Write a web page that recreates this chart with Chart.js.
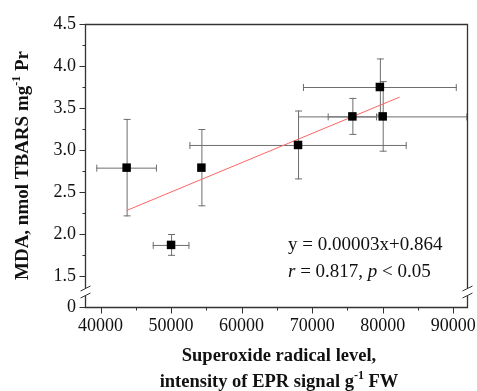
<!DOCTYPE html>
<html>
<head>
<meta charset="utf-8">
<script src="https://cdn.jsdelivr.net/npm/chart.js@4"></script>
<style>
  html, body { margin: 0; padding: 0; background: #fff; }
  #wrap { width: 477px; height: 391px; }
</style>
</head>
<body>
<div id="wrap"><canvas id="myChart1" width="477" height="391"></canvas></div>
<script>
// superoxide level (x) vs MDA (y), mean +- sd
const xVals = [43700, 50000, 54300, 68000, 75700, 80000, 79600];
const yVals = [2.79, 1.87, 2.79, 3.06, 3.40, 3.40, 3.75];
const xErr = [4300, 2600, 0, 15400, 3500, 12000, 10900];
const yErr = [0.58, 0.13, 0.46, 0.41, 0.22, 0.42, 0.34];

// fitted line end points as drawn
const fitX = [43700, 82400];
const fitY = [2.28, 3.63];

const xTicks = [40000, 50000, 60000, 70000, 80000, 90000];
const yTicks = [1.5, 2.0, 2.5, 3.0, 3.5, 4.0, 4.5];
const xRange = [37800, 91950];
const yRange = [1.131, 4.5]; // bottom of the broken axis is labelled 0
const eqLines = ['y = 0.00003x+0.864', 'r = 0.817, p < 0.05'];

const serif = '"Liberation Serif", "Times New Roman", serif';
const axisCol = '#333';

// error bars go under the square markers
const errorBars = {
    id: 'errorBars',
    beforeDatasetsDraw(chart) {
        const ctx = chart.ctx;
        const xs = chart.scales.x, ys = chart.scales.y;
        const a = chart.chartArea;
        ctx.save();
        ctx.beginPath();
        ctx.rect(a.left, a.top, a.right - a.left + 1, a.bottom - a.top);
        ctx.clip();
        ctx.strokeStyle = '#6e6e6e';
        ctx.lineWidth = 1;
        const cap = 3;
        xVals.forEach((x, i) => {
            const px = xs.getPixelForValue(x);
            const py = ys.getPixelForValue(yVals[i]);
            if (xErr[i] > 0) {
                const l = xs.getPixelForValue(x - xErr[i]);
                const r = xs.getPixelForValue(x + xErr[i]);
                ctx.beginPath();
                ctx.moveTo(l, py + 0.5); ctx.lineTo(r, py + 0.5);
                ctx.moveTo(l + 0.5, py - cap); ctx.lineTo(l + 0.5, py + cap + 1);
                ctx.moveTo(r - 0.5, py - cap); ctx.lineTo(r - 0.5, py + cap + 1);
                ctx.stroke();
            }
            const t = ys.getPixelForValue(yVals[i] + yErr[i]);
            const b = ys.getPixelForValue(yVals[i] - yErr[i]);
            ctx.beginPath();
            ctx.moveTo(px + 0.5, t); ctx.lineTo(px + 0.5, b);
            ctx.moveTo(px - cap, t + 0.5); ctx.lineTo(px + cap + 1, t + 0.5);
            ctx.moveTo(px - cap, b - 0.5); ctx.lineTo(px + cap + 1, b - 0.5);
            ctx.stroke();
        });
        ctx.restore();
    }
};

const frame = {
    id: 'frame',
    afterDraw(chart) {
        const ctx = chart.ctx;
        const xs = chart.scales.x, ys = chart.scales.y;
        const a = chart.chartArea;
        const L = Math.round(a.left) + 0.5, R = Math.round(a.right) + 0.5;
        const T = Math.round(a.top) + 0.5, B = Math.round(a.bottom) + 0.5;
        // where the axis is broken
        const brk = Math.round((ys.getPixelForValue(1.5) + B) / 2);
        ctx.save();
        ctx.strokeStyle = axisCol;
        ctx.lineWidth = 1.3;
        ctx.beginPath();
        ctx.moveTo(L, brk - 4); ctx.lineTo(L, T); ctx.lineTo(R, T); ctx.lineTo(R, brk - 4);
        ctx.moveTo(L, brk + 4); ctx.lineTo(L, B); ctx.lineTo(R, B); ctx.lineTo(R, brk + 4);
        ctx.stroke();
        // break slashes
        ctx.lineWidth = 1;
        [L, R].forEach(x => {
            [-3.5, 3.5].forEach(d => {
                ctx.beginPath();
                ctx.moveTo(x - 5, brk + d + 2.5);
                ctx.lineTo(x + 5, brk + d - 2.5);
                ctx.stroke();
            });
        });
        // ticks, pointing out
        ctx.lineWidth = 1;
        ctx.beginPath();
        for (let v = 1.5; v <= 4.5001; v += 0.25) {
            const y = Math.round(ys.getPixelForValue(v)) + 0.5;
            const len = Math.abs(v * 2 - Math.round(v * 2)) < 1e-6 ? 6 : 3;
            ctx.moveTo(L, y); ctx.lineTo(L - len, y);
        }
        ctx.moveTo(L, B); ctx.lineTo(L - 6, B);
        for (let v = 40000; v <= 90000; v += 5000) {
            const x = Math.round(xs.getPixelForValue(v)) + 0.5;
            const len = v % 10000 === 0 ? 6 : 3;
            ctx.moveTo(x, B); ctx.lineTo(x, B + len);
        }
        ctx.stroke();

        // regression text
        ctx.fillStyle = '#111';
        ctx.textBaseline = 'alphabetic';
        ctx.textAlign = 'left';
        ctx.font = '19px ' + serif;
        ctx.fillText(eqLines[0], 288, 250);
        // second line: italic r and p
        let cx = 288;
        const parts = eqLines[1].split(/(r|p)/).filter(s => s !== '');
        parts.forEach(p => {
            ctx.font = (p === 'r' || p === 'p' ? 'italic ' : '') + '19px ' + serif;
            ctx.fillText(p, cx, 277);
            cx += ctx.measureText(p).width;
        });

        // axis titles with superscripts
        ctx.fillStyle = '#111';
        const mid = (a.left + a.right) / 2;
        ctx.textAlign = 'center';
        ctx.font = 'bold 18.5px ' + serif;
        ctx.fillText('Superoxide radical level,', mid + 3, 361);
        drawRich(ctx, [['intensity of EPR signal g', 0], ['-1', 1], [' FW', 0]], mid + 3, 387, 18.5);

        ctx.save();
        ctx.translate(28, (a.top + a.bottom) / 2);
        ctx.rotate(-Math.PI / 2);
        drawRich(ctx, [['MDA, nmol TBARS mg', 0], ['-1', 1], [' Pr', 0]], 0, 0, 19);
        ctx.restore();
        ctx.restore();
    }
};

function drawRich(ctx, parts, cx, y, size) {
    const big = 'bold ' + size + 'px ' + serif, small = 'bold 12px ' + serif;
    let w = 0;
    parts.forEach(p => { ctx.font = p[1] ? small : big; w += ctx.measureText(p[0]).width; });
    let x = cx - w / 2;
    ctx.textAlign = 'left';
    parts.forEach(p => {
        ctx.font = p[1] ? small : big;
        ctx.fillText(p[0], x, p[1] ? y - 8 : y);
        x += ctx.measureText(p[0]).width;
    });
    ctx.textAlign = 'center';
}

new Chart(document.getElementById('myChart1'), {
    type: 'scatter',
    data: {
        datasets: [{
            type: 'line',
            data: fitX.map((x, i) => ({ x: x, y: fitY[i] })),
            borderColor: '#ff6464',
            borderWidth: 1,
            pointRadius: 0,
            fill: false,
            order: 2
        }, {
            data: xVals.map((x, i) => ({ x: x, y: yVals[i] })),
            pointStyle: 'rect',
            pointRadius: 6,
            backgroundColor: '#000',
            borderColor: '#000',
            borderWidth: 0,
            order: 0
        }]
    },
    options: {
        responsive: false,
        animation: false,
        devicePixelRatio: 1,
        layout: { padding: { top: 24, right: 10, left: 0, bottom: 0 } },
        plugins: { legend: { display: false }, tooltip: { enabled: false } },
        scales: {
            x: {
                type: 'linear',
                min: xRange[0],
                max: xRange[1],
                afterBuildTicks: s => { s.ticks = xTicks.map(v => ({ value: v })); },
                afterFit: s => { s.height = 84; s.paddingLeft = 0; s.paddingRight = 0; },
                grid: { display: false, drawTicks: false },
                border: { display: false },
                ticks: {
                    padding: 8,
                    color: '#111',
                    font: { family: serif, size: 18 },
                    maxRotation: 0,
                    callback: v => String(v)
                }
            },
            y: {
                type: 'linear',
                min: yRange[0],
                max: yRange[1],
                afterBuildTicks: s => {
                    s.ticks = [yRange[0]].concat(yTicks).map(v => ({ value: v }));
                },
                afterFit: s => { s.width = 85; s.paddingTop = 0; s.paddingBottom = 0; },
                grid: { display: false, drawTicks: false },
                border: { display: false },
                ticks: {
                    padding: 9,
                    color: '#111',
                    font: { family: serif, size: 18 },
                    callback: v => v === yRange[0] ? '0' : v.toFixed(1)
                }
            }
        }
    },
    plugins: [errorBars, frame]
});
</script>
</body>
</html>
